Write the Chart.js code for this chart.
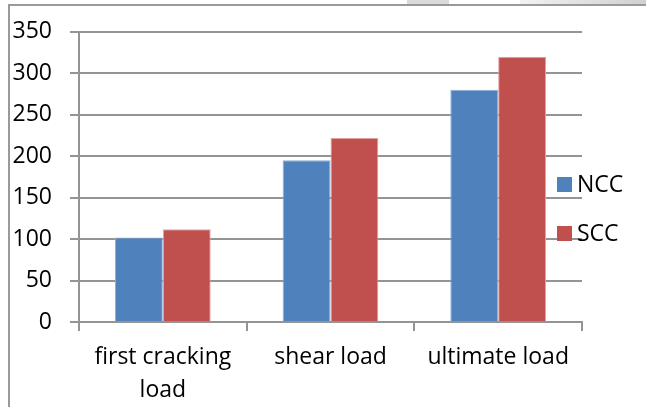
<!DOCTYPE html>
<html>
<head>
<meta charset="utf-8">
<script src="https://cdn.jsdelivr.net/npm/chart.js@4/dist/chart.umd.min.js"></script>
<style>
  html, body { margin: 0; padding: 0; background: #fff; }
  #wrap { position: relative; width: 646px; height: 407px; overflow: hidden; }
  /* caption strip above the framed chart */
  .strip { position: absolute; top: 0; height: 5px; background: #dadada; }
  #frame { position: absolute; left: 8px; top: 4px; width: 700px; height: 500px;
           border-left: 2px solid #9a9a9a; border-top: 2px solid #9a9a9a; }
  canvas { position: absolute; left: 0; top: 0; }
</style>
</head>
<body>
<div id="wrap">
  <div class="strip" style="left:407px;width:42px;"></div>
  <div class="strip" style="left:520px;width:126px;background:linear-gradient(90deg,#f2f2f2,#d0d0d0);"></div>
  <div id="frame"></div>
  <canvas id="c" width="646" height="407"></canvas>
</div>
<script>
const categories = [['first cracking', 'load'], 'shear load', 'ultimate load'];
const seriesNames = ['NCC', 'SCC'];
const nccValues = [102, 195, 280];
const sccValues = [112, 222, 320];
const yTicks = [0, 50, 100, 150, 200, 250, 300, 350];

const colors = ['#4F81BD', '#C0504D'];
const edgeColors = ['#8FB0DA', '#E3A3A1'];
const FONT = { family: '"Open Sans", sans-serif', size: 23 };

// Legend drawn to the right, overlapping the plot edge
const sideLegend = {
  id: 'sideLegend',
  afterDraw(chart) {
    const ctx = chart.ctx;
    const rows = [184, 233];
    ctx.save();
    ctx.font = FONT.size + 'px ' + FONT.family;
    ctx.textBaseline = 'middle';
    ctx.textAlign = 'left';
    chart.data.datasets.forEach((ds, i) => {
      const y = rows[i];
      ctx.fillStyle = ds.backgroundColor;
      ctx.fillRect(557, y - 7, 15, 15);
      ctx.fillStyle = '#000';
      ctx.fillText(ds.label, 577, y + 1);
    });
    ctx.restore();
  }
};

new Chart(document.getElementById('c'), {
  type: 'bar',
  data: {
    labels: categories,
    datasets: [
      { label: seriesNames[0], data: nccValues, backgroundColor: colors[0], borderColor: edgeColors[0], borderWidth: 1 },
      { label: seriesNames[1], data: sccValues, backgroundColor: colors[1], borderColor: edgeColors[1], borderWidth: 1 }
    ]
  },
  options: {
    responsive: false,
    animation: false,
    devicePixelRatio: 1,
    layout: { padding: { left: 9, right: 64, top: 31, bottom: 0 } },
    datasets: { bar: { categoryPercentage: 0.571, barPercentage: 1.0 } },
    plugins: { legend: { display: false }, tooltip: { enabled: false } },
    scales: {
      x: {
        offset: true,
        grid: { offset: true, drawOnChartArea: false, color: '#949494', lineWidth: 2, tickLength: 9 },
        border: { color: '#949494', width: 2 },
        ticks: { color: '#000', font: { ...FONT, lineHeight: 1.42 }, padding: 10, maxRotation: 0, autoSkip: false },
        afterFit(s) { s.height = 85; }
      },
      y: {
        min: 0, max: 350,
        afterBuildTicks(s) { s.ticks = yTicks.map(v => ({ value: v })); },
        grid: { color: '#949494', lineWidth: 2, tickLength: 9 },
        border: { color: '#949494', width: 2 },
        ticks: { color: '#000', font: FONT, padding: 18 },
        afterFit(s) { s.width = 70; }
      }
    }
  },
  plugins: [sideLegend]
});
</script>
</body>
</html>
